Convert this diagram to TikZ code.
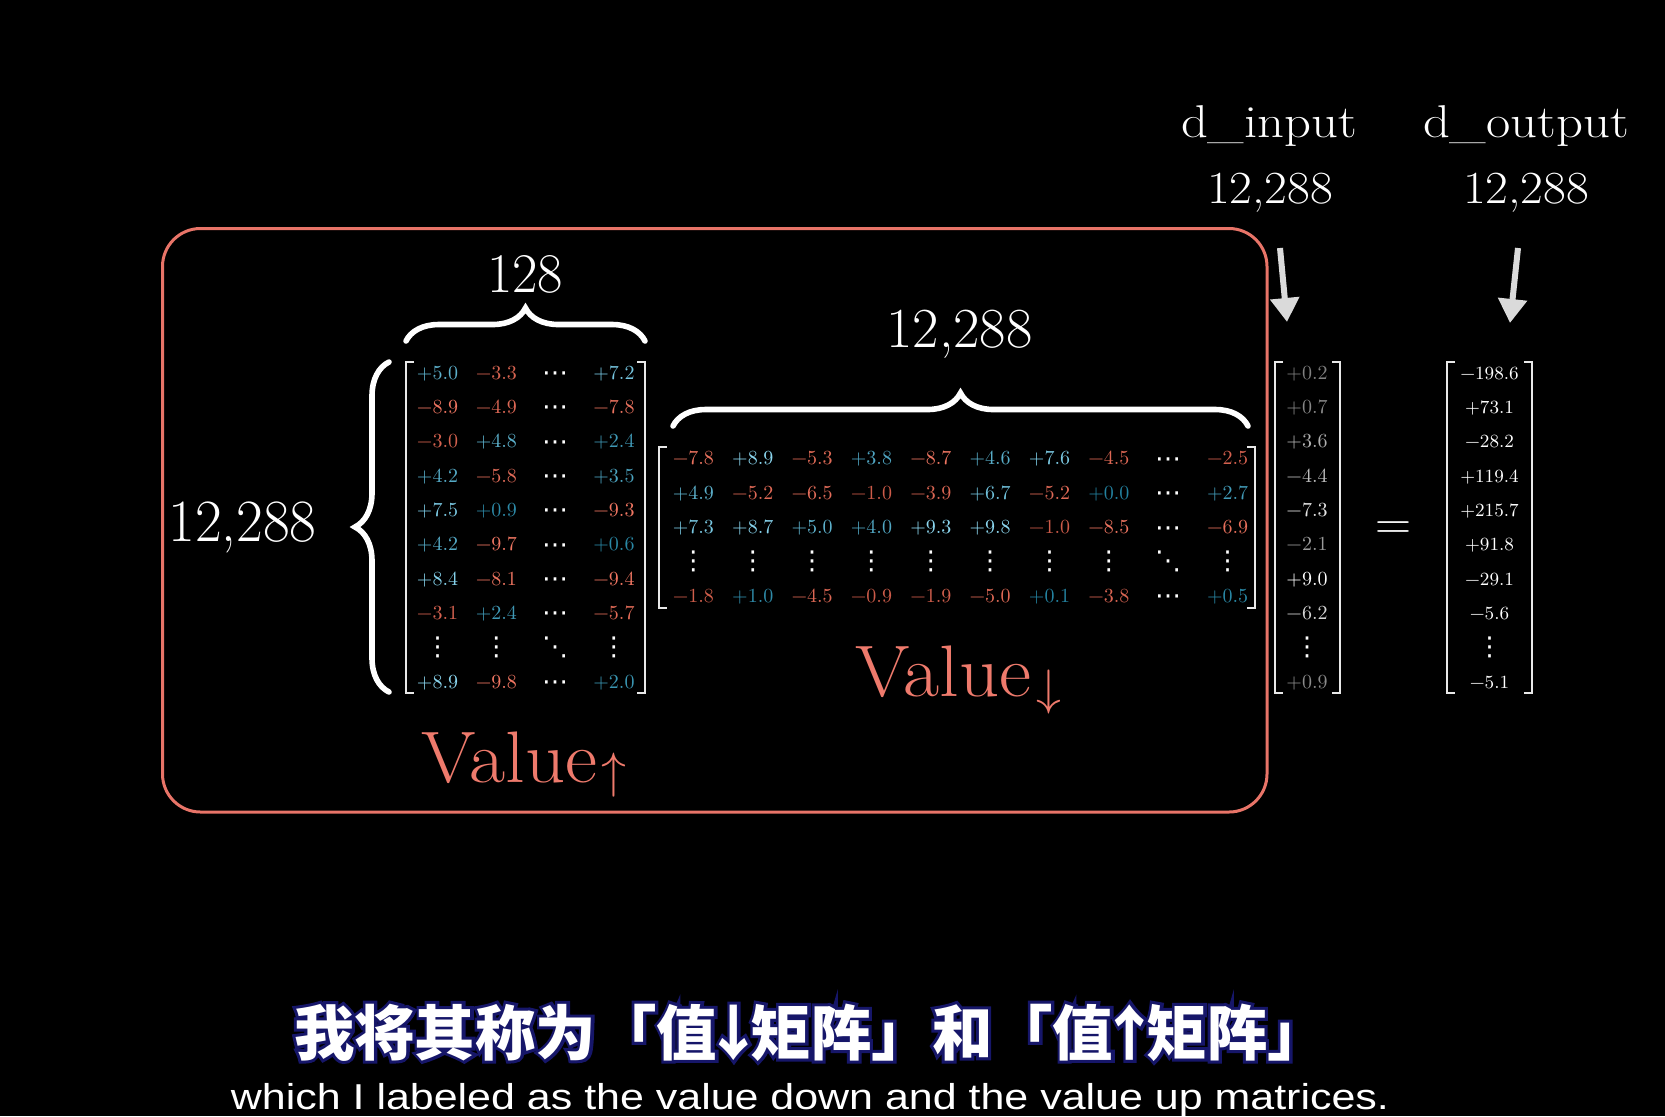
\documentclass[tikz,border=0pt]{standalone}
\usepackage{fontspec}
\usepackage{graphicx}
\usetikzlibrary{decorations.pathreplacing,arrows.meta,calc}
\newfontfamily\zhfont{Noto Sans CJK SC}
\newfontfamily\zhfontol{Noto Sans CJK SC}[FakeBold=10]
\newfontfamily\enfont{Liberation Sans}
\newfontfamily\dvfont{DejaVu Sans}

\definecolor{boxred}{RGB}{232,116,104}
\definecolor{valred}{RGB}{238,122,108}
\definecolor{blo}{RGB}{35,130,160}
\definecolor{bhi}{RGB}{140,215,240}
\definecolor{rlo}{RGB}{200,88,70}
\definecolor{rhi}{RGB}{240,118,98}
\definecolor{glo}{RGB}{125,125,125}
\definecolor{ghi}{RGB}{255,255,255}
\definecolor{brkgray}{RGB}{232,232,232}
\definecolor{arrgray}{RGB}{218,218,218}
\definecolor{outnavy}{RGB}{22,22,105}

\newcommand\fs[1]{\fontsize{#1}{#1}\selectfont}
\newcommand\fitw[2]{\resizebox{#1}{\height}{#2}}
\newcommand\dotc[1]{\raisebox{0.8pt}{$\vcenter{\hbox{\dvfont\fs{13}#1}}$}}
\newcommand\mycdots{\raisebox{-2pt}{\dotc{⋯}}}
\newcommand\myvdots{\dotc{⋮}}
\newcommand\myddots{\dotc{⋱}}

\def\entparse#1#2\relax{%
 \if#1p\pgfmathsetmacro\ep{min(100,11*#2)}\textcolor{bhi!\ep!blo}{+#2}\fi
 \if#1m\pgfmathsetmacro\ep{min(100,11*#2)}\textcolor{rhi!\ep!rlo}{−#2}\fi
 \if#1c\mycdots\fi
 \if#1v\myvdots\fi
 \if#1d\myddots\fi}
\newcommand\ent[1]{\expandafter\entparse#1\relax}
\def\gentparse#1#2\relax{\if#1v\myvdots\else\pgfmathsetmacro\ep{min(100,11*#2)}\textcolor{ghi!\ep!glo}{\if#1p+\else−\fi#2}\fi}
\newcommand\gent[1]{\expandafter\gentparse#1\relax}
\def\wentparse#1#2\relax{\if#1v\myvdots\else\if#1p+\else−\fi#2\fi}
\newcommand\went[1]{\expandafter\wentparse#1\relax}

\newcommand\zhtext{我将其称为「值\makebox[0.55em]{↓}矩阵」和「值\makebox[0.55em]{↑}矩阵」}

\tikzset{
  ent/.style={anchor=base,font=\fs{10}},
  lbl/.style={anchor=base,text=white},
  brk/.style={draw=brkgray,line width=1pt},
  curly/.style={draw=white,line width=2.8pt,line cap=round,decorate},
  bigarrow/.style={draw=arrgray,line width=3pt,-{Triangle[width=14pt,length=12pt]}},
}

\begin{document}
\begin{tikzpicture}[x=0.5pt,y=-0.5pt,every node/.style={inner sep=0pt,text=white}]
\fill[black] (0,0) rectangle (1665,1116);
\useasboundingbox (0,0) rectangle (1665,1116);

% red box
\draw[boxred,line width=1.5pt,rounded corners=19pt] (162.5,228.5) rectangle (1267,812);

% top labels
\node[lbl,font=\fs{23}] (din) at (1269,137) {\fitw{88pt}{d\_input}};
\node[lbl,font=\fs{23}] (dout) at (1526,137) {\fitw{103pt}{d\_output}};
\node[lbl,font=\fs{23}] (nin) at (1270,203) {\fitw{63pt}{12,288}};
\node[lbl,font=\fs{23}] (nout) at (1526,203) {\fitw{63pt}{12,288}};

\coordinate (ai1) at (1280,248);
\coordinate (ai2) at (1287,322);
\coordinate (ao1) at (1518,248);
\coordinate (ao2) at (1510,323);
\draw[bigarrow] (ai1) -- (ai2);
\draw[bigarrow] (ao1) -- (ao2);

% dimension labels
\node[lbl,font=\fs{28}] (n128) at (525,292) {\fitw{38pt}{128}};
\node[lbl,font=\fs{28.3}] (nmid) at (959.5,347) {\fitw{73pt}{12,288}};
\node[lbl,font=\fs{30}] (nleft) at (242.5,541.6) {\fitw{74pt}{12,288}};

% braces
\coordinate (b1a) at (406,341); \coordinate (b1b) at (645,341);
\coordinate (b2a) at (389,692); \coordinate (b2b) at (389,362);
\coordinate (b3a) at (673,426); \coordinate (b3b) at (1248,426);
\draw[curly,decoration={brace,amplitude=16.5pt}] (b1a) -- (b1b);
\draw[curly,decoration={brace,amplitude=17pt}] (b2a) -- (b2b);
\draw[curly,decoration={brace,amplitude=16.5pt}] (b3a) -- (b3b);

% Value-up matrix
\foreach \row [count=\r] in {
 {p5.0,m3.3,c,p7.2},{m8.9,m4.9,c,m7.8},{m3.0,p4.8,c,p2.4},{p4.2,m5.8,c,p3.5},
 {p7.5,p0.9,c,m9.3},{p4.2,m9.7,c,p0.6},{p8.4,m8.1,c,m9.4},{m3.1,p2.4,c,m5.7},
 {v,v,d,v},{p8.9,m9.8,c,p2.0}} {
  \foreach \e [count=\c] in \row {
    \node[ent] (VU-\r-\c) at ({437.5+58.83*(\c-1)},{379.3+34.33*(\r-1)}) {\ent{\e}};
  }
}
\draw[brk] (414,361.7) -- (406,361.7) -- (406,693) -- (414,693);
\draw[brk] (637,361.7) -- (645,361.7) -- (645,693) -- (637,693);

% Value-down matrix
\foreach \row [count=\r] in {
 {m7.8,p8.9,m5.3,p3.8,m8.7,p4.6,p7.6,m4.5,c,m2.5},
 {p4.9,m5.2,m6.5,m1.0,m3.9,p6.7,m5.2,p0.0,c,p2.7},
 {p7.3,p8.7,p5.0,p4.0,p9.3,p9.8,m1.0,m8.5,c,m6.9},
 {v,v,v,v,v,v,v,v,d,v},
 {m1.8,p1.0,m4.5,m0.9,m1.9,m5.0,p0.1,m3.8,c,p0.5}} {
  \foreach \e [count=\c] in \row {
    \node[ent] (VD-\r-\c) at ({693.4+59.35*(\c-1)},{464.9+34.45*(\r-1)}) {\ent{\e}};
  }
}
\draw[brk] (666.7,447) -- (658.7,447) -- (658.7,607.5) -- (666.7,607.5);
\draw[brk] (1247,447) -- (1255,447) -- (1255,607.5) -- (1247,607.5);

% input vector
\foreach \e [count=\r] in {p0.2,p0.7,p3.6,m4.4,m7.3,m2.1,p9.0,m6.2,v,p0.9} {
  \node[ent] (VI-\r) at (1307,{379.3+34.33*(\r-1)}) {\gent{\e}};
}
\draw[brk] (1283,361.7) -- (1275,361.7) -- (1275,693) -- (1283,693);
\draw[brk] (1332,361.7) -- (1340,361.7) -- (1340,693) -- (1332,693);

% equals
\node[lbl,font=\fs{25}] (eq) at (1393.5,539.4) {=};

% output vector
\foreach \e [count=\r] in {m198.6,p73.1,m28.2,p119.4,p215.7,p91.8,m29.1,m5.6,v,m5.1} {
  \node[ent,font=\fs{9.3},text=white] (VO-\r) at (1489.5,{379.3+34.33*(\r-1)}) {\went{\e}};
}
\draw[brk] (1455,361.7) -- (1447,361.7) -- (1447,693) -- (1455,693);
\draw[brk] (1524,361.7) -- (1532,361.7) -- (1532,693) -- (1524,693);

% Value labels
\node[anchor=base west,text=valred,font=\fs{36.5}] (vup) at (421,782)
  {\fitw{88pt}{Value}\kern2pt\raisebox{-2.85pt}{\fs{25}$\uparrow$}};
\node[anchor=base west,text=valred,font=\fs{36.5}] (vdown) at (855,696)
  {\fitw{88pt}{Value}\kern2.5pt\raisebox{-4.35pt}{\fs{25}$\downarrow$}};

% subtitles
\node[anchor=base,text=outnavy] (zhol) at (811,1055)
  {\fitw{517pt}{\zhfontol\bfseries\fs{30}\zhtext}};
\node[anchor=base,text=white] (zh) at (811,1055)
  {\fitw{517pt}{\zhfont\bfseries\fs{30}\zhtext}};
\node[anchor=base,text=white] (en) at (810,1109.3)
  {\fitw{579pt}{\enfont\fs{18}which I labeled as the value down and the value up matrices.}};
\end{tikzpicture}
\end{document}
